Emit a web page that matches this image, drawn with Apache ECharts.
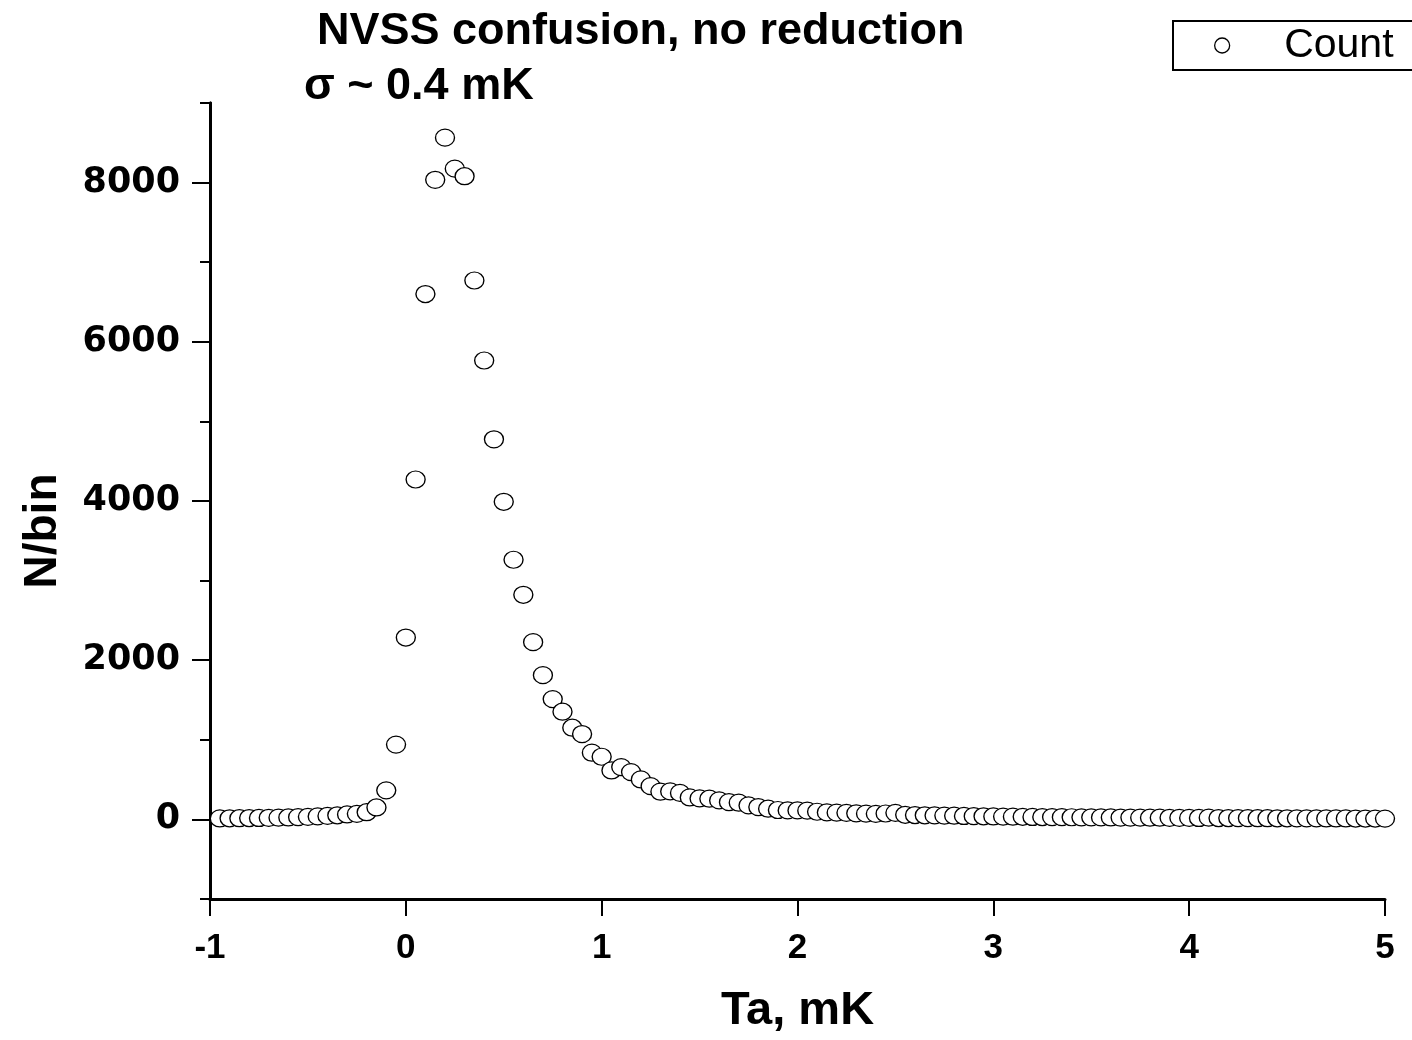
<!DOCTYPE html>
<html>
<head>
<meta charset="utf-8">
<script src="https://cdn.jsdelivr.net/npm/echarts@6/dist/echarts.min.js"></script>
<style>
html,body{margin:0;padding:0;background:#fff;}
#chart{width:1412px;height:1040px;}
</style>
</head>
<body>
<div id="chart"></div>
<script>
// ---- data ----
const titleLine1 = 'NVSS confusion, no reduction';
const titleLine2 = 'σ ~ 0.4 mK';
const xName = 'Ta, mK';
const yName = 'N/bin';
const seriesName = 'Count';

const taValues = [
  -0.95,-0.90,-0.85,-0.80,-0.75,-0.70,-0.65,-0.60,-0.55,-0.50,
  -0.45,-0.40,-0.35,-0.30,-0.25,-0.20,-0.15,-0.10,-0.05,0.00,
  0.05,0.10,0.15,0.20,0.25,0.30,0.35,0.40,0.45,0.50,
  0.55,0.60,0.65,0.70,0.75,0.80,0.85,0.90,0.95,1.00,
  1.05,1.10,1.15,1.20,1.25,1.30,1.35,1.40,1.45,1.50,
  1.55,1.60,1.65,1.70,1.75,1.80,1.85,1.90,1.95,2.00,
  2.05,2.10,2.15,2.20,2.25,2.30,2.35,2.40,2.45,2.50,
  2.55,2.60,2.65,2.70,2.75,2.80,2.85,2.90,2.95,3.00,
  3.05,3.10,3.15,3.20,3.25,3.30,3.35,3.40,3.45,3.50,
  3.55,3.60,3.65,3.70,3.75,3.80,3.85,3.90,3.95,4.00,
  4.05,4.10,4.15,4.20,4.25,4.30,4.35,4.40,4.45,4.50,
  4.55,4.60,4.65,4.70,4.75,4.80,4.85,4.90,4.95,5.00
];
const countValues = [
  12,14,15,17,18,20,22,24,28,32,
  38,44,52,62,70,90,150,365,940,2285,
  4270,6600,8035,8565,8175,8080,6770,5765,4775,3990,
  3262,2822,2227,1812,1511,1353,1152,1072,838,787,
  615,657,594,502,418,348,352,333,276,264,
  260,239,217,210,176,155,134,118,113,113,
  110,96,88,85,82,76,72,70,74,82,
  58,55,52,50,48,46,43,41,39,37,
  35,34,33,31,30,29,28,27,26,26,
  25,24,23,23,22,21,21,20,20,19,
  18,22,17,17,16,16,15,15,14,14,
  13,13,13,12,12,12,11,11,11,10
];
const yLabelValues = [0, 2000, 4000, 6000, 8000];

// ---- chart ----
const chart = echarts.init(document.getElementById('chart'), null, {renderer: 'canvas'});
const pts = taValues.map((x, i) => [x, countValues[i]]);
const axisLine = {show: true, onZero: false, lineStyle: {color: '#000', width: 3}};

chart.setOption({
  backgroundColor: '#fff',
  animation: false,
  title: [
    {text: titleLine1, left: 317, top: 9, padding: 0,
     textStyle: {fontFamily: 'Liberation Sans', fontWeight: 'bold', fontSize: 45, color: '#000'}},
    {text: titleLine2, left: 304, top: 64, padding: 0,
     textStyle: {fontFamily: 'Liberation Sans', fontWeight: 'bold', fontSize: 45, color: '#000'}}
  ],
  legend: {
    data: [seriesName],
    left: 1173, top: 21,
    orient: 'horizontal',
    padding: [4, 40, 4, 41],
    borderColor: '#000', borderWidth: 2, borderRadius: 0,
    backgroundColor: '#fff',
    icon: 'circle',
    itemWidth: 20, itemHeight: 15,
    itemStyle: {color: '#fff', borderColor: '#000', borderWidth: 1.3},
    textStyle: {fontFamily: 'Liberation Sans', fontSize: 41, color: '#000', padding: [0, 0, 0, 47], lineHeight: 40}
  },
  grid: {left: 210, right: 27, top: 103, bottom: 140, containLabel: false},
  xAxis: {
    type: 'value', min: -1, max: 5, interval: 1,
    name: xName, nameLocation: 'middle', nameGap: 89,
    nameTextStyle: {fontFamily: 'Liberation Sans', fontWeight: 'bold', fontSize: 47, color: '#000'},
    axisLine: axisLine,
    axisTick: {show: true, inside: false, length: 17, lineStyle: {color: '#000', width: 2}},
    axisLabel: {margin: 32, fontFamily: 'Liberation Sans', fontWeight: 'bold', fontSize: 35, color: '#000'},
    splitLine: {show: false}
  },
  yAxis: [
    {
      type: 'value', min: -1000, max: 9000, interval: 1000, position: 'left',
      axisLine: axisLine,
      axisTick: {show: true, inside: false, length: 10, lineStyle: {color: '#000', width: 2}},
      axisLabel: {show: false},
      splitLine: {show: false}
    },
    {
      type: 'value', min: -1000, max: 9000, interval: 1000, position: 'left', offset: 0,
      name: yName, nameLocation: 'middle', nameGap: 144, nameRotate: 90,
      nameTextStyle: {fontFamily: 'Liberation Sans', fontWeight: 'bold', fontSize: 46, color: '#000', padding: [0, 60, 0, 0]},
      axisLine: axisLine,
      axisTick: {show: true, inside: false, length: 18, customValues: yLabelValues, lineStyle: {color: '#000', width: 2}},
      axisLabel: {show: true, customValues: yLabelValues, margin: 30, formatter: v => String(v),
                  fontFamily: 'DejaVu Sans', fontWeight: 'bold', fontSize: 35, color: '#000'},
      splitLine: {show: false}
    }
  ],
  series: [{
    name: seriesName,
    type: 'scatter',
    yAxisIndex: 0,
    data: pts,
    symbol: 'circle',
    symbolSize: [19, 17],
    itemStyle: {color: '#fff', borderColor: '#000', borderWidth: 1.3, opacity: 1},
    emphasis: {disabled: true},
    z: 3
  }]
});
</script>
</body>
</html>
